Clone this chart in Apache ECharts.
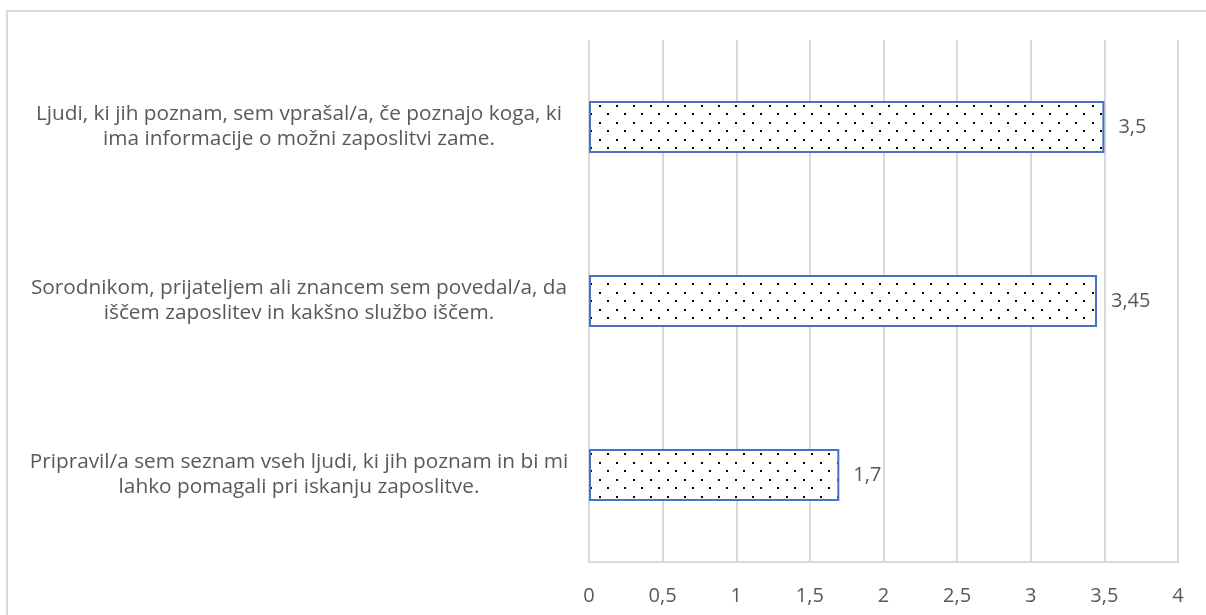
<!DOCTYPE html>
<html>
<head>
<meta charset="utf-8">
<script src="https://cdn.jsdelivr.net/npm/echarts@6/dist/echarts.min.js"></script>
<style>
  html, body { margin: 0; padding: 0; background: #fff; }
  #chart { width: 1206px; height: 615px; }
</style>
</head>
<body>
<div id="chart"></div>
<script>
// categories bottom -> top (category axis draws first item at the bottom)
var categories = [
    'Pripravil/a sem seznam vseh ljudi, ki jih poznam in bi mi\nlahko pomagali pri iskanju zaposlitve.',
    'Sorodnikom, prijateljem ali znancem sem povedal/a, da\niščem zaposlitev in kakšno službo iščem.',
    'Ljudi, ki jih poznam, sem vprašal/a, če poznajo koga, ki\nima informacije o možni zaposlitvi zame.'
];
var values = [1.7, 3.45, 3.5];

var xMin = 0;
var xMax = 4;
var xStep = 0.5;

function comma(v) {
    return String(v).replace('.', ',');
}

// dotted fill like the excel pattern
function dotPattern() {
    var c = document.createElement('canvas');
    c.width = 17;
    c.height = 17;
    var ctx = c.getContext('2d');
    ctx.fillStyle = '#ffffff';
    ctx.fillRect(0, 0, 17, 17);
    ctx.fillStyle = '#000000';
    ctx.fillRect(4, 3, 2, 2);
    ctx.fillRect(12, 11, 2, 2);
    return c;
}

var myChart = echarts.init(document.getElementById('chart'));
var textColor = '#595959';
var fontFam = '"Open Sans", sans-serif';

var option = {
    backgroundColor: '#ffffff',
    animation: false,
    graphic: [{
        type: 'rect',
        shape: { x: 7, y: 11, width: 1220, height: 640 },
        style: { fill: 'none', stroke: '#d9d9d9', lineWidth: 2 },
        silent: true
    }],
    grid: {
        left: 589,
        right: 28,
        top: 40,
        bottom: 53,
        containLabel: false
    },
    xAxis: {
        type: 'value',
        min: xMin,
        max: xMax,
        interval: xStep,
        axisLine: { show: true, lineStyle: { color: '#d9d9d9', width: 2 } },
        axisTick: { show: false },
        splitLine: { show: true, lineStyle: { color: '#d9d9d9', width: 2 } },
        axisLabel: {
            color: textColor,
            fontSize: 20,
            fontFamily: fontFam,
            margin: 24,
            formatter: comma
        }
    },
    yAxis: {
        type: 'category',
        data: categories,
        axisLine: { show: false },
        axisTick: { show: false },
        splitLine: { show: false },
        axisLabel: {
            color: textColor,
            fontSize: 20.8,
            fontFamily: fontFam,
            lineHeight: 25,
            align: 'center',
            margin: 290,
            padding: [4, 0, 0, 0]
        }
    },
    series: [{
        type: 'bar',
        data: values,
        barWidth: 52,
        itemStyle: {
            color: { image: dotPattern(), repeat: 'repeat' },
            borderColor: '#4472c4',
            borderWidth: 2
        },
        label: {
            show: true,
            position: 'right',
            distance: 14,
            color: textColor,
            fontSize: 20,
            fontFamily: fontFam,
            formatter: function (p) { return comma(p.value); }
        }
    }]
};

myChart.setOption(option);
</script>
</body>
</html>
